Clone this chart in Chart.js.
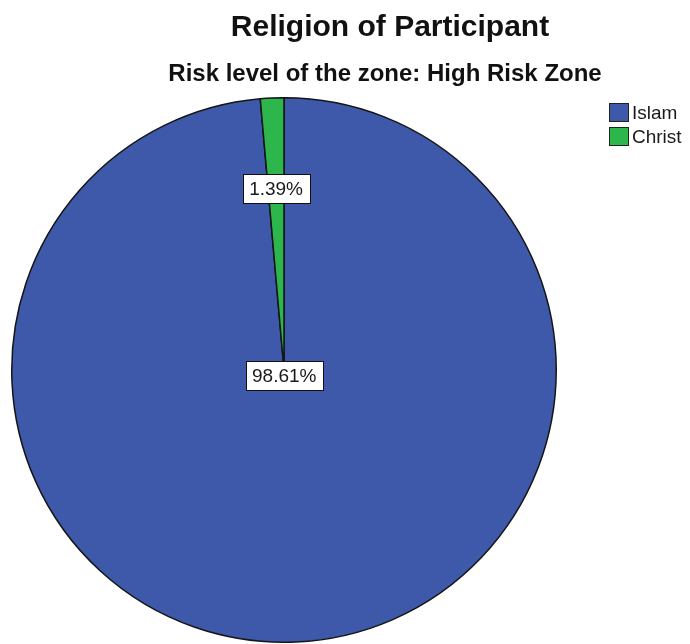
<!DOCTYPE html>
<html>
<head>
<meta charset="utf-8">
<script src="https://cdn.jsdelivr.net/npm/chart.js@4.4.1/dist/chart.umd.min.js"></script>
<style>
  html, body { margin: 0; padding: 0; background: #ffffff; }
  #wrap { position: relative; width: 690px; height: 644px; }
  canvas { display: block; }
</style>
</head>
<body>
<div id="wrap"><canvas id="pie" width="690" height="644"></canvas></div>
<script>
// Religion breakdown for participants in the high risk zone (percent)
const categories = ['Islam', 'Christ'];
const percentages = [98.61, 1.39];
const chartTitle = 'Religion of Participant';
const chartSubtitle = 'Risk level of the zone: High Risk Zone';

const sliceColors = ['#3e58aa', '#2db64b'];
const labelRadiusFraction = [0.022, 0.667];
const FONT = '"Liberation Sans", Arial, sans-serif';

// Titles, legend and value boxes drawn on the chart canvas
const decorations = {
  id: 'decorations',
  afterDatasetsDraw(chart) {
    const ctx = chart.ctx;
    const meta = chart.getDatasetMeta(0);
    ctx.save();
    // value boxes
    ctx.font = '19px ' + FONT;
    ctx.textAlign = 'center';
    ctx.textBaseline = 'middle';
    meta.data.forEach((arc, i) => {
      const p = arc.getProps(['x', 'y', 'startAngle', 'endAngle', 'outerRadius'], true);
      const mid = (p.startAngle + p.endAngle) / 2;
      const r = p.outerRadius * labelRadiusFraction[i];
      const cx = p.x + Math.cos(mid) * r;
      const cy = p.y + Math.sin(mid) * r;
      const txt = percentages[i].toFixed(2) + '%';
      const w = ctx.measureText(txt).width + 13;
      const h = 29;
      ctx.fillStyle = '#ffffff';
      ctx.fillRect(Math.round(cx - w / 2) + 0.5, Math.round(cy - h / 2) + 0.5, Math.round(w), h);
      ctx.strokeStyle = '#111111';
      ctx.lineWidth = 1;
      ctx.strokeRect(Math.round(cx - w / 2) + 0.5, Math.round(cy - h / 2) + 0.5, Math.round(w), h);
      ctx.fillStyle = '#1a1a1a';
      ctx.fillText(txt, cx, cy + 1);
    });

    // titles
    ctx.textAlign = 'center';
    ctx.textBaseline = 'alphabetic';
    ctx.fillStyle = '#111111';
    ctx.font = 'bold 30px ' + FONT;
    ctx.fillText(chartTitle, 390, 36);
    ctx.font = 'bold 24px ' + FONT;
    ctx.fillText(chartSubtitle, 385, 81);

    // legend
    ctx.textAlign = 'left';
    ctx.font = '19px ' + FONT;
    categories.forEach((name, i) => {
      const y = 103 + i * 24;
      ctx.fillStyle = sliceColors[i];
      ctx.fillRect(609.5, y + 0.5, 19, 18);
      ctx.strokeStyle = '#222222';
      ctx.lineWidth = 1;
      ctx.strokeRect(609.5, y + 0.5, 19, 18);
      ctx.fillStyle = '#1a1a1a';
      ctx.fillText(name, 632, y + 16);
    });
    ctx.restore();
  }
};

new Chart(document.getElementById('pie'), {
  type: 'pie',
  data: {
    labels: categories,
    datasets: [{
      data: percentages,
      backgroundColor: sliceColors,
      borderColor: '#151515',
      borderWidth: 1.5
    }]
  },
  options: {
    responsive: false,
    animation: false,
    layout: { padding: { left: 11, right: 133, top: 97, bottom: 1 } },
    plugins: {
      legend: { display: false },
      title: { display: false },
      tooltip: { enabled: false }
    }
  },
  plugins: [decorations]
});
</script>
</body>
</html>
